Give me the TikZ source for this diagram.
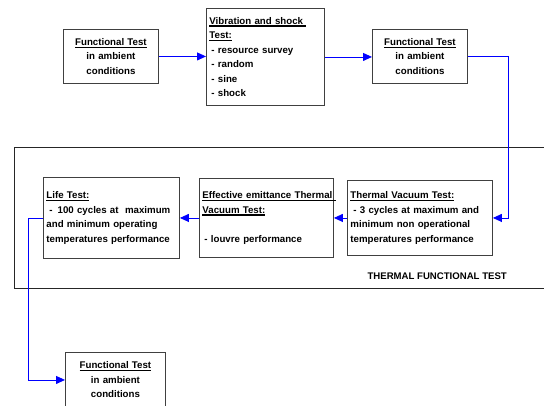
\documentclass[tikz,border=0pt]{standalone}
\usepackage{fontspec}
\setmainfont{Liberation Sans}
\usetikzlibrary{arrows.meta}
\newsavebox\ulbox
\newcommand\myul[1]{\leavevmode\sbox\ulbox{#1}\rlap{\rule[-2.4pt]{\wd\ulbox}{1.3pt}}\usebox\ulbox}
\tikzset{
  box/.style={draw=black!75, line width=0.9pt, inner xsep=3pt, inner ysep=0pt,
    anchor=north west, font=\bfseries\fontsize{9.7}{14.5}\selectfont, align=left},
  conn/.style={draw=blue, line width=0.9pt, -{Triangle[length=9pt,width=8pt]}},
  frame/.style={draw=black!85, line width=0.9pt}
}
\begin{document}
\begin{tikzpicture}[x=1pt,y=-1pt]
\clip (0,0) rectangle (544,405);
\fill[white] (0,0) rectangle (544,405);
% frame
\draw[frame] (14,147) rectangle (570,288);
\node[font=\bfseries\fontsize{9.6}{11}\selectfont, anchor=east, inner sep=0pt] (lbl) at (507,276) {THERMAL FUNCTIONAL TEST};
% top row
\node[box, text width=89pt, minimum height=54pt, align=center] (f1) at (63,29)
  {\myul{Functional Test}\\in ambient\\conditions};
\node[box, text width=112pt, minimum height=97pt] (vib) at (206,8)
  {\myul{Vibration and shock\ }\\\myul{Test:}\\\hspace{2pt}- resource survey\\\hspace{2pt}- random\\\hspace{2pt}- sine\\\hspace{2pt}- shock};
\node[box, text width=89pt, minimum height=54pt, align=center] (f3) at (372,29)
  {\myul{Functional Test}\\in ambient\\conditions};
% thermal row
\node[box, text width=130pt, minimum height=81pt] (life) at (43,177)
  {\myul{Life Test:}\\\hspace{3pt}-\hspace{5pt}100 cycles at\ \ maximum\\and minimum operating\\temperatures performance};
\node[box, text width=128pt, minimum height=79pt] (eff) at (199,178)
  {\myul{Effective emittance Thermal\ }\\\myul{Vacuum Test:}\\\mbox{}\\\hspace{2pt}- louvre performance};
\node[box, text width=139pt, minimum height=75pt] (tv) at (347,180)
  {\myul{Thermal Vacuum Test:}\\\hspace{3pt}- 3 cycles at maximum and\\minimum non operational\\temperatures performance};
% bottom
\node[box, text width=94pt, minimum height=55pt, align=center] (f4) at (65,352)
  {\myul{Functional Test}\\in ambient\\conditions};
% connectors
\draw[conn] (f1.east) -- (f1.east -| vib.west);
\draw[conn] (vib.west -| vib.east) -- (vib.west -| f3.west);
\draw[conn] (f3.east) -- ++(41,0) |- (tv.east);
\draw[conn] (tv.west) -- (tv.west -| eff.east);
\draw[conn] (eff.west) -- (eff.west -| life.east);
\draw[conn] (life.west) -- ++(-15,0) |- (f4.west);
\end{tikzpicture}
\end{document}
